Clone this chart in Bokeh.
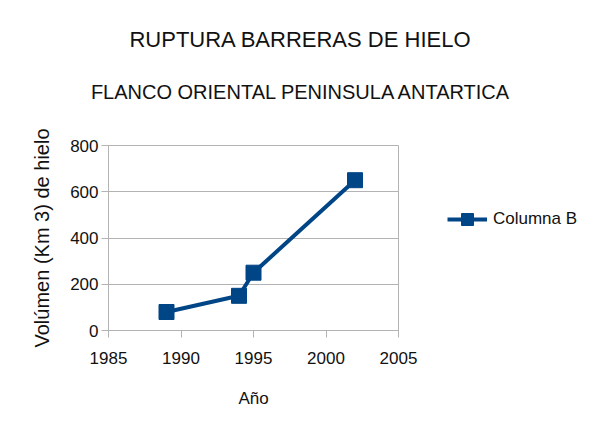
from bokeh.plotting import figure
from bokeh.models import Range1d, Legend, LegendItem, FixedTicker, Div
from bokeh.layouts import column, row
from bokeh.embed import file_html
from bokeh.resources import INLINE

years = [1989, 1994, 1995, 2002]
volumes = [80, 150, 250, 650]
series_name = "Columna B"
title_text = "RUPTURA BARRERAS DE HIELO"
subtitle_text = "FLANCO ORIENTAL PENINSULA ANTARTICA"
x_ticks = [1985, 1990, 1995, 2000, 2005]
y_ticks = [0, 200, 400, 600, 800]

FONT = "Liberation Sans"
BLUE = "#004586"
GRAY = "#b3b3b3"
TXT = "#111111"

def text_div(txt, size, height, line_height):
    html = ('<div style="font-family:\'%s\';font-size:%dpx;line-height:%dpx;color:%s;'
            'text-align:center;white-space:nowrap;width:600px;">%s</div>'
            % (FONT, size, line_height, TXT, txt))
    return Div(text=html, width=600, height=height, margin=0)

title_div = text_div(title_text, 22, 80, 80)
sub_div = text_div(subtitle_text, 20, 40, 24)

p = figure(width=420, height=303, output_backend="svg", toolbar_location=None,
           x_range=Range1d(1985, 2005), y_range=Range1d(0, 800),
           min_border_left=108, min_border_right=22, min_border_top=25, min_border_bottom=93)
p.outline_line_color = GRAY
p.background_fill_color = "white"
p.border_fill_color = "white"

p.xgrid.visible = False
p.ygrid.grid_line_color = GRAY
p.ygrid.grid_line_width = 1

for ax in (p.xaxis[0], p.yaxis[0]):
    ax.axis_line_color = GRAY
    ax.major_tick_line_color = GRAY
    ax.minor_tick_line_color = None
    ax.major_tick_in = 0
    ax.major_tick_out = 7
    ax.major_label_text_font = FONT
    ax.major_label_text_font_size = "17px"
    ax.major_label_text_color = TXT
    ax.axis_label_text_font = FONT
    ax.axis_label_text_font_style = "normal"
    ax.axis_label_text_color = TXT

p.xaxis.ticker = FixedTicker(ticks=x_ticks)
p.yaxis.ticker = FixedTicker(ticks=y_ticks)
p.xaxis.major_label_standoff = 14
p.yaxis.major_label_standoff = 3
p.xaxis.axis_label = "Año"
p.yaxis.axis_label = "Volúmen (Km 3) de hielo"
p.xaxis.axis_label_text_font_size = "17px"
p.yaxis.axis_label_text_font_size = "20px"
p.xaxis.axis_label_standoff = 22
p.yaxis.axis_label_standoff = 14

p.line(years, volumes, line_color=BLUE, line_width=4)
p.scatter(years, volumes, marker="square", size=15, fill_color=BLUE, line_color=BLUE)

# legend panel: a separate canvas to the right; its frame is aligned with the chart frame.
# The series is drawn here outside the visible range only so the legend has styled renderers.
pl = figure(width=164, height=303, output_backend="svg", toolbar_location=None,
            x_range=Range1d(0, 1), y_range=Range1d(0, 1),
            x_axis_type=None, y_axis_type=None,
            min_border_left=0, min_border_right=0, min_border_top=25, min_border_bottom=93)
pl.outline_line_color = None
pl.xgrid.visible = False
pl.ygrid.visible = False
pl.background_fill_color = "white"
pl.border_fill_color = "white"
lg_line = pl.line(x=years, y=volumes, line_color=BLUE, line_width=4)
lg_pts = pl.scatter(x=years, y=volumes, marker="square", size=15, fill_color=BLUE, line_color=BLUE)

legend = Legend(items=[LegendItem(label=series_name, renderers=[lg_line, lg_pts])],
                location=(27, 96), glyph_width=40, glyph_height=30,
                label_text_font=FONT, label_text_font_size="17px", label_text_color=TXT,
                border_line_alpha=0, background_fill_alpha=0, padding=0, margin=0,
                label_standoff=6)
pl.add_layout(legend, "center")

layout = column(title_div, sub_div, row(p, pl, spacing=0), spacing=0)
open("out.html", "w").write(file_html(layout, INLINE))
